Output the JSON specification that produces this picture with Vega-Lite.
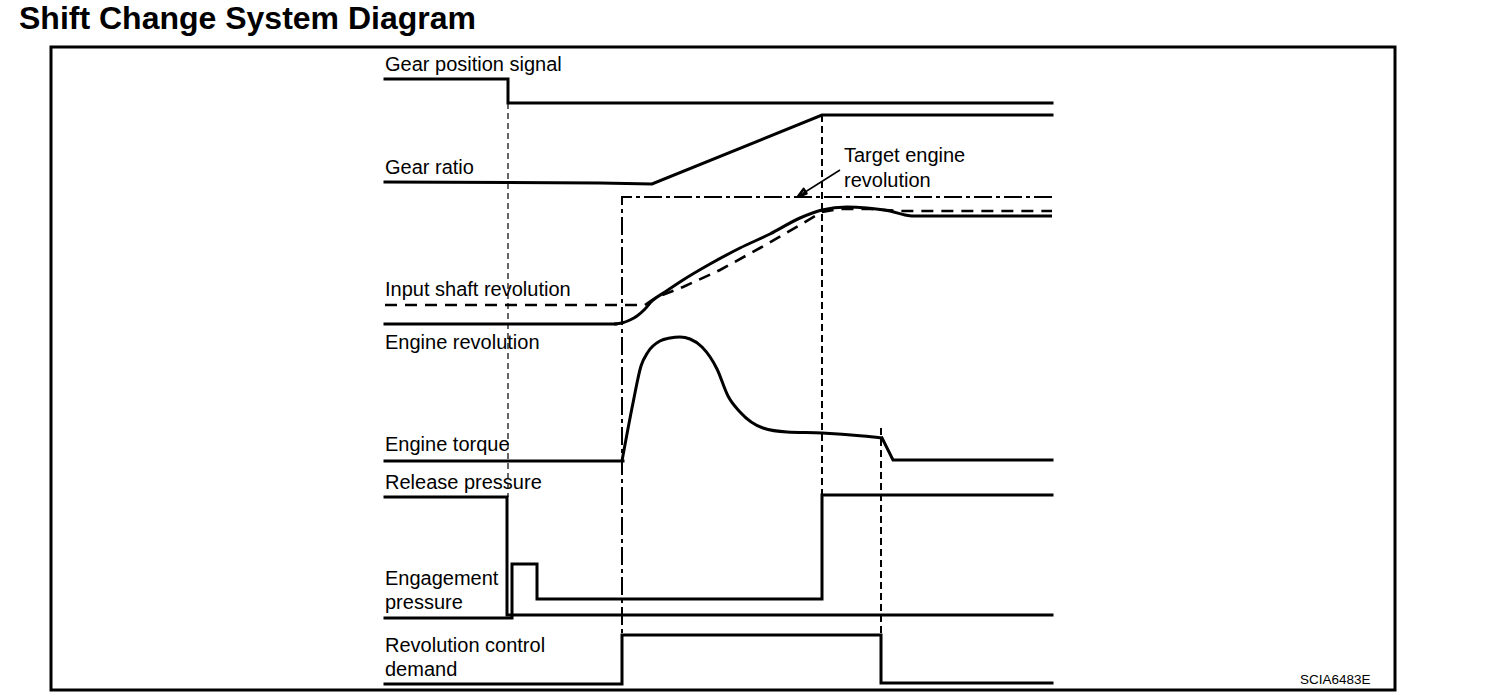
{
  "$schema": "https://vega.github.io/schema/vega-lite/v6.json",
  "width": 1504,
  "height": 700,
  "autosize": {"type": "fit", "contains": "padding"},
  "padding": 0,
  "background": "white",
  "config": {"view": {"stroke": null}},
  "datasets": {
    "lines": [
      {"s": "frame", "k": "solid", "o": 1, "x": 51, "y": 47},
      {"s": "frame", "k": "solid", "o": 2, "x": 1395, "y": 47},
      {"s": "frame", "k": "solid", "o": 3, "x": 1395, "y": 690},
      {"s": "frame", "k": "solid", "o": 4, "x": 51, "y": 690},
      {"s": "frame", "k": "solid", "o": 5, "x": 51, "y": 47},

      {"s": "gearpos", "k": "solid", "o": 1, "x": 385, "y": 79},
      {"s": "gearpos", "k": "solid", "o": 2, "x": 508, "y": 79},
      {"s": "gearpos", "k": "solid", "o": 3, "x": 508, "y": 103},
      {"s": "gearpos", "k": "solid", "o": 4, "x": 1052, "y": 103},

      {"s": "gearratio", "k": "solid", "o": 1, "x": 385, "y": 182},
      {"s": "gearratio", "k": "solid", "o": 2, "x": 600, "y": 183},
      {"s": "gearratio", "k": "solid", "o": 3, "x": 652, "y": 184},
      {"s": "gearratio", "k": "solid", "o": 4, "x": 822, "y": 115},
      {"s": "gearratio", "k": "solid", "o": 5, "x": 1052, "y": 115},

      {"s": "engrev0", "k": "solid", "o": 1, "x": 385, "y": 324},
      {"s": "engrev0", "k": "solid", "o": 2, "x": 616, "y": 324},
      {"s": "engrev", "k": "curve", "o": 1, "x": 614, "y": 324},
      {"s": "engrev", "k": "curve", "o": 2, "x": 622, "y": 323},
      {"s": "engrev", "k": "curve", "o": 3, "x": 630, "y": 320},
      {"s": "engrev", "k": "curve", "o": 4, "x": 637, "y": 316},
      {"s": "engrev", "k": "curve", "o": 5, "x": 645, "y": 309},
      {"s": "engrev", "k": "curve", "o": 6, "x": 652, "y": 301},
      {"s": "engrev", "k": "curve", "o": 7, "x": 665, "y": 292},
      {"s": "engrev", "k": "curve", "o": 8, "x": 683, "y": 280},
      {"s": "engrev", "k": "curve", "o": 9, "x": 710, "y": 264},
      {"s": "engrev", "k": "curve", "o": 10, "x": 740, "y": 248},
      {"s": "engrev", "k": "curve", "o": 11, "x": 770, "y": 234},
      {"s": "engrev", "k": "curve", "o": 12, "x": 800, "y": 218},
      {"s": "engrev", "k": "curve", "o": 13, "x": 822, "y": 210},
      {"s": "engrev", "k": "curve", "o": 14, "x": 847, "y": 207},
      {"s": "engrev", "k": "curve", "o": 15, "x": 867, "y": 208},
      {"s": "engrev", "k": "curve", "o": 16, "x": 890, "y": 211},
      {"s": "engrev", "k": "curve", "o": 17, "x": 905, "y": 215},
      {"s": "engrev", "k": "curve", "o": 18, "x": 912, "y": 216},
      {"s": "engrev", "k": "curve", "o": 19, "x": 1052, "y": 216},

      {"s": "inshaft", "k": "dash", "o": 1, "x": 385, "y": 305},
      {"s": "inshaft", "k": "dash", "o": 2, "x": 645, "y": 305},
      {"s": "inshaft", "k": "dash", "o": 3, "x": 652, "y": 300},
      {"s": "inshaft", "k": "dash", "o": 4, "x": 660, "y": 296},
      {"s": "inshaft", "k": "dash", "o": 5, "x": 683, "y": 287},
      {"s": "inshaft", "k": "dash", "o": 6, "x": 720, "y": 270},
      {"s": "inshaft", "k": "dash", "o": 7, "x": 760, "y": 248},
      {"s": "inshaft", "k": "dash", "o": 8, "x": 800, "y": 225},
      {"s": "inshaft", "k": "dash", "o": 9, "x": 822, "y": 212},
      {"s": "inshaft", "k": "dash", "o": 10, "x": 840, "y": 209},
      {"s": "inshaft", "k": "dash", "o": 11, "x": 870, "y": 209},
      {"s": "inshaft", "k": "dash", "o": 12, "x": 900, "y": 211},
      {"s": "inshaft", "k": "dash", "o": 13, "x": 1052, "y": 211},

      {"s": "torque0", "k": "solid", "o": 1, "x": 385, "y": 461},
      {"s": "torque0", "k": "solid", "o": 2, "x": 623, "y": 461},
      {"s": "torque", "k": "curve", "o": 1, "x": 622, "y": 461},
      {"s": "torque", "k": "curve", "o": 2, "x": 633, "y": 403},
      {"s": "torque", "k": "curve", "o": 3, "x": 641, "y": 366},
      {"s": "torque", "k": "curve", "o": 4, "x": 648, "y": 352},
      {"s": "torque", "k": "curve", "o": 5, "x": 660, "y": 341},
      {"s": "torque", "k": "curve", "o": 6, "x": 670, "y": 338},
      {"s": "torque", "k": "curve", "o": 7, "x": 680, "y": 337},
      {"s": "torque", "k": "curve", "o": 8, "x": 690, "y": 339},
      {"s": "torque", "k": "curve", "o": 9, "x": 702, "y": 347},
      {"s": "torque", "k": "curve", "o": 10, "x": 717, "y": 369},
      {"s": "torque", "k": "curve", "o": 11, "x": 728, "y": 396},
      {"s": "torque", "k": "curve", "o": 12, "x": 740, "y": 412},
      {"s": "torque", "k": "curve", "o": 13, "x": 763, "y": 428},
      {"s": "torque", "k": "curve", "o": 14, "x": 787, "y": 432},
      {"s": "torque", "k": "curve", "o": 15, "x": 822, "y": 433},
      {"s": "torque", "k": "curve", "o": 16, "x": 863, "y": 436},
      {"s": "torque", "k": "curve", "o": 17, "x": 882, "y": 438},
      {"s": "torque2", "k": "solid", "o": 1, "x": 882, "y": 438},
      {"s": "torque2", "k": "solid", "o": 2, "x": 893, "y": 460},
      {"s": "torque2", "k": "solid", "o": 3, "x": 1052, "y": 460},

      {"s": "release", "k": "solid", "o": 1, "x": 385, "y": 497},
      {"s": "release", "k": "solid", "o": 2, "x": 507, "y": 497},
      {"s": "release", "k": "solid", "o": 3, "x": 507, "y": 615},
      {"s": "release", "k": "solid", "o": 4, "x": 1052, "y": 615},

      {"s": "engage", "k": "solid", "o": 1, "x": 385, "y": 618},
      {"s": "engage", "k": "solid", "o": 2, "x": 512, "y": 618},
      {"s": "engage", "k": "solid", "o": 3, "x": 512, "y": 564},
      {"s": "engage", "k": "solid", "o": 4, "x": 537, "y": 564},
      {"s": "engage", "k": "solid", "o": 5, "x": 537, "y": 599},
      {"s": "engage", "k": "solid", "o": 6, "x": 822, "y": 599},
      {"s": "engage", "k": "solid", "o": 7, "x": 822, "y": 495},
      {"s": "engage", "k": "solid", "o": 8, "x": 1052, "y": 495},

      {"s": "demand", "k": "solid", "o": 1, "x": 385, "y": 684},
      {"s": "demand", "k": "solid", "o": 2, "x": 622, "y": 684},
      {"s": "demand", "k": "solid", "o": 3, "x": 622, "y": 635},
      {"s": "demand", "k": "solid", "o": 4, "x": 881, "y": 635},
      {"s": "demand", "k": "solid", "o": 5, "x": 881, "y": 683},
      {"s": "demand", "k": "solid", "o": 6, "x": 1052, "y": 683},

      {"s": "target", "k": "dashdot", "o": 1, "x": 1052, "y": 197},
      {"s": "target", "k": "dashdot", "o": 2, "x": 622, "y": 197},
      {"s": "target", "k": "dashdot", "o": 3, "x": 622, "y": 635},

      {"s": "v822", "k": "vdash", "o": 1, "x": 822, "y": 115},
      {"s": "v822", "k": "vdash", "o": 2, "x": 822, "y": 495},
      {"s": "v881", "k": "vdash", "o": 1, "x": 881, "y": 428},
      {"s": "v881", "k": "vdash", "o": 2, "x": 881, "y": 635},
      {"s": "v508", "k": "thin", "o": 1, "x": 508, "y": 103},
      {"s": "v508", "k": "thin", "o": 2, "x": 508, "y": 497},

      {"s": "arrow", "k": "arrow", "o": 1, "x": 840, "y": 170},
      {"s": "arrow", "k": "arrow", "o": 2, "x": 802, "y": 194},
      {"s": "head", "k": "head", "o": 1, "x": 798, "y": 196.5},
      {"s": "head", "k": "head", "o": 2, "x": 806.5, "y": 193.5},
      {"s": "head", "k": "head", "o": 3, "x": 803.6, "y": 188.9},
      {"s": "head", "k": "head", "o": 4, "x": 798, "y": 196.5}
    ],
    "texts": [
      {"t": "Shift Change System Diagram", "k": "title", "x": 19, "y": 29},
      {"t": "Gear position signal", "k": "label", "x": 385, "y": 71},
      {"t": "Gear ratio", "k": "label", "x": 385, "y": 174},
      {"t": "Target engine", "k": "label", "x": 844, "y": 162},
      {"t": "revolution", "k": "label", "x": 844, "y": 187},
      {"t": "Input shaft revolution", "k": "label", "x": 385, "y": 296},
      {"t": "Engine revolution", "k": "label", "x": 385, "y": 349},
      {"t": "Engine torque", "k": "label", "x": 385, "y": 451},
      {"t": "Release pressure", "k": "label", "x": 385, "y": 489},
      {"t": "Engagement", "k": "label", "x": 385, "y": 585},
      {"t": "pressure", "k": "label", "x": 385, "y": 609},
      {"t": "Revolution control", "k": "label", "x": 385, "y": 652},
      {"t": "demand", "k": "label", "x": 385, "y": 676},
      {"t": "SCIA6483E", "k": "code", "x": 1300, "y": 684}
    ]
  },
  "encoding": {
    "x": {"field": "x", "type": "quantitative", "scale": {"domain": [0, 1504], "nice": false, "zero": false}, "axis": null},
    "y": {"field": "y", "type": "quantitative", "scale": {"domain": [0, 700], "nice": false, "zero": false, "reverse": true}, "axis": null}
  },
  "layer": [
    {
      "data": {"name": "lines"},
      "transform": [{"filter": "datum.k === 'thin'"}],
      "mark": {"type": "line", "stroke": "black", "strokeWidth": 1.2, "strokeDash": [6, 4]},
      "encoding": {"order": {"field": "o"}, "detail": {"field": "s"}}
    },
    {
      "data": {"name": "lines"},
      "transform": [{"filter": "datum.k === 'vdash'"}],
      "mark": {"type": "line", "stroke": "black", "strokeWidth": 2, "strokeDash": [7, 4]},
      "encoding": {"order": {"field": "o"}, "detail": {"field": "s"}}
    },
    {
      "data": {"name": "lines"},
      "transform": [{"filter": "datum.k === 'dashdot'"}],
      "mark": {"type": "line", "stroke": "black", "strokeWidth": 2, "strokeDash": [18, 4, 4, 4]},
      "encoding": {"order": {"field": "o"}, "detail": {"field": "s"}}
    },
    {
      "data": {"name": "lines"},
      "transform": [{"filter": "datum.k === 'arrow'"}],
      "mark": {"type": "line", "stroke": "black", "strokeWidth": 1.5},
      "encoding": {"order": {"field": "o"}, "detail": {"field": "s"}}
    },
    {
      "data": {"name": "lines"},
      "transform": [{"filter": "datum.k === 'head'"}],
      "mark": {"type": "line", "stroke": "black", "strokeWidth": 2.5, "strokeJoin": "round"},
      "encoding": {"order": {"field": "o"}, "detail": {"field": "s"}}
    },
    {
      "data": {"name": "lines"},
      "transform": [{"filter": "datum.k === 'dash'"}],
      "mark": {"type": "line", "stroke": "black", "strokeWidth": 2.6, "strokeDash": [12, 8]},
      "encoding": {"order": {"field": "o"}, "detail": {"field": "s"}}
    },
    {
      "data": {"name": "lines"},
      "transform": [{"filter": "datum.k === 'curve'"}],
      "mark": {"type": "line", "stroke": "black", "strokeWidth": 3, "interpolate": "monotone"},
      "encoding": {"order": {"field": "o"}, "detail": {"field": "s"}}
    },
    {
      "data": {"name": "lines"},
      "transform": [{"filter": "datum.k === 'solid'"}],
      "mark": {"type": "line", "stroke": "black", "strokeWidth": 3, "strokeJoin": "miter", "strokeCap": "square"},
      "encoding": {"order": {"field": "o"}, "detail": {"field": "s"}}
    },
    {
      "data": {"name": "texts"},
      "transform": [{"filter": "datum.k === 'label'"}],
      "mark": {"type": "text", "align": "left", "baseline": "alphabetic", "font": "Liberation Sans", "fontSize": 20, "color": "black"},
      "encoding": {"text": {"field": "t"}}
    },
    {
      "data": {"name": "texts"},
      "transform": [{"filter": "datum.k === 'title'"}],
      "mark": {"type": "text", "align": "left", "baseline": "alphabetic", "font": "Liberation Sans", "fontWeight": "bold", "fontSize": 32, "color": "black"},
      "encoding": {"text": {"field": "t"}}
    },
    {
      "data": {"name": "texts"},
      "transform": [{"filter": "datum.k === 'code'"}],
      "mark": {"type": "text", "align": "left", "baseline": "alphabetic", "font": "Liberation Sans", "fontSize": 13.5, "color": "black"},
      "encoding": {"text": {"field": "t"}}
    }
  ]
}
